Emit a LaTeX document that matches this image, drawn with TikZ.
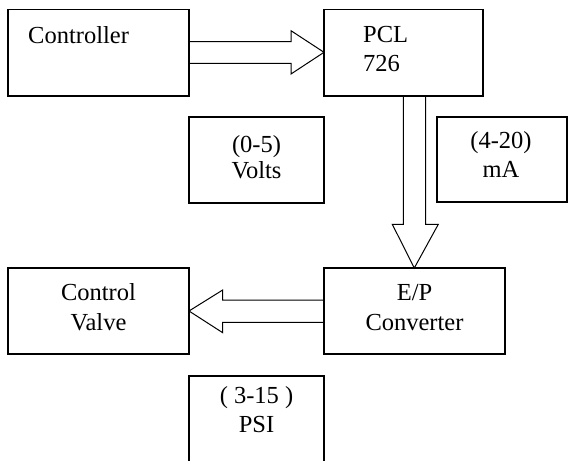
\documentclass[tikz,border=0pt]{standalone}
\usepackage{fontspec}
\setmainfont{Liberation Serif}
\begin{document}
\begin{tikzpicture}[x=1pt,y=-1pt,
  box/.style={draw, line width=1.2pt, inner sep=0pt, outer sep=0pt, anchor=north west},
  lbl/.style={inner sep=0pt, font=\fontsize{24.5}{29}\selectfont},
  arr/.style={draw, line width=1pt, line join=miter}]
\path[use as bounding box] (0,0) rectangle (571,461);
\clip (0,0) rectangle (571,461);
% boxes
\node[box, minimum width=181pt, minimum height=86.7pt] (ctrl) at (8,9.3) {};
\node[box, minimum width=159pt, minimum height=86.7pt] (pcl) at (324,9.3) {};
\node[box, minimum width=135pt, minimum height=86pt] (volts) at (189,117) {};
\node[box, minimum width=130pt, minimum height=85pt] (ma) at (437,117) {};
\node[box, minimum width=181pt, minimum height=86pt] (ep) at (324,268) {};
\node[box, minimum width=181pt, minimum height=86pt] (valve) at (8,268) {};
\node[box, minimum width=135pt, minimum height=100pt] (psi) at (189,376) {};
% texts
\node[lbl, anchor=base west] (tctrl) at (28,43) {Controller};
\node[lbl, anchor=base west] (tpcl1) at (363,42.3) {PCL};
\node[lbl, anchor=base west] (tpcl2) at (363,71.7) {726};
\node[lbl, anchor=base] (tv1) at (256.5,152) {(0-5)};
\node[lbl, anchor=base] (tv2) at (256.5,178) {Volts};
\node[lbl, anchor=base] (tm1) at (501,148) {(4-20)};
\node[lbl, anchor=base] (tm2) at (501,177) {mA};
\node[lbl, anchor=base] (tc1) at (98.5,300) {Control};
\node[lbl, anchor=base] (tc2) at (98.5,330.7) {Valve};
\node[lbl, anchor=base] (te1) at (414.5,300) {E/P};
\node[lbl, anchor=base] (te2) at (414.5,330) {Converter};
\node[lbl, anchor=base] (tp1) at (256.5,403) {( 3-15 )};
\node[lbl, anchor=base] (tp2) at (256.5,432) {PSI};
% block arrows
\draw[arr] (ctrl.east |- 0,41.7) -- (291,41.7) -- (291,30.7) -- (pcl.west |- 0,52.3)
  -- (291,74) -- (291,63.3) -- (ctrl.east |- 0,63.3);
\draw[arr] (pcl.south -| 403.3,0) -- (403.3,224.3) -- (392.3,224.3) -- (ep.north -| 414.3,0)
  -- (438.3,224.3) -- (425.7,224.3) -- (pcl.south -| 425.7,0);
\draw[arr] (ep.west |- 0,300) -- (222.7,300) -- (222.7,290) -- (valve.east |- 0,311)
  -- (222.7,332.7) -- (222.7,322.3) -- (ep.west |- 0,322.3);
\end{tikzpicture}
\end{document}
